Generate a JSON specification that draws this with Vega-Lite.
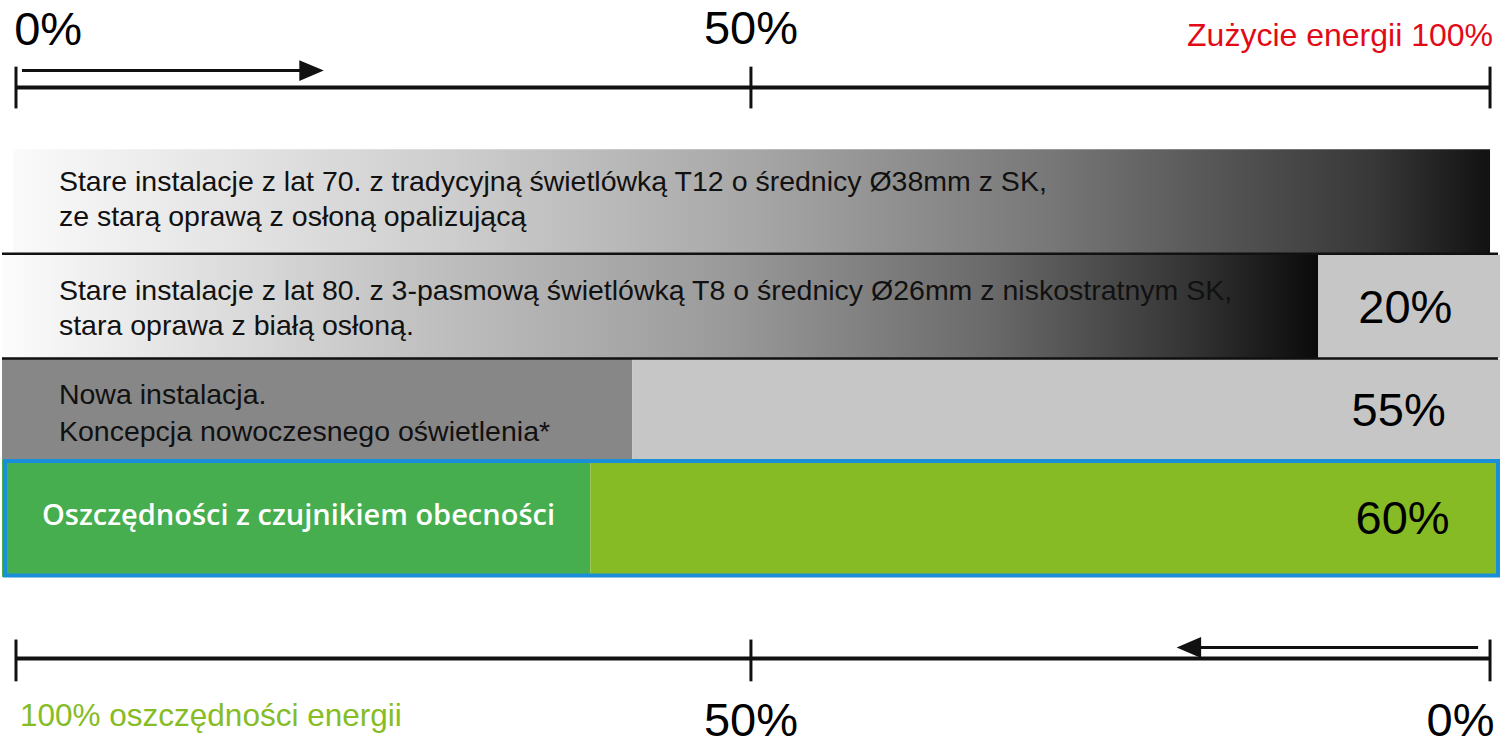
{
  "$schema": "https://vega.github.io/schema/vega-lite/v6.json",
  "width": 1510,
  "height": 745,
  "padding": 0,
  "autosize": {"type": "fit", "contains": "padding"},
  "background": "white",
  "config": {"view": {"stroke": null}},
  "datasets": {
    "bars": [
      {"segment": "bar2_rest", "x": 88.35, "x2": 100.68, "y": 256, "y2": 360},
      {"segment": "bar3_new", "x": -0.949, "x2": 41.8, "y": 361, "y2": 462},
      {"segment": "bar3_rest", "x": 41.8, "x2": 100.68, "y": 361, "y2": 462},
      {"segment": "bar4_sensor", "x": -0.949, "x2": 38.96, "y": 462, "y2": 580},
      {"segment": "bar4_rest", "x": 38.96, "x2": 100.68, "y": 462, "y2": 580}
    ],
    "axes": [
      {"axis": "top", "x": 0, "x2": 100, "y": 88},
      {"axis": "bottom", "x": 0, "x2": 100, "y": 662}
    ],
    "ticks": [
      {"x": 0, "y": 67, "y2": 109},
      {"x": 49.86, "y": 67, "y2": 109},
      {"x": 100, "y": 67, "y2": 109},
      {"x": 0, "y": 643, "y2": 685},
      {"x": 49.86, "y": 643, "y2": 685},
      {"x": 100, "y": 643, "y2": 685}
    ],
    "separators": [
      {"x": -0.949, "x2": 100.54, "y": 255},
      {"x": -0.949, "x2": 100.54, "y": 360.5}
    ],
    "shafts": [
      {"dir": "right", "x": 0.407, "x2": 19.6, "y": 71},
      {"dir": "left", "x": 80.2, "x2": 99.19, "y": 651}
    ],
    "heads": [
      {"dir": "right", "x": 20.05, "y": 71},
      {"dir": "left", "x": 79.57, "y": 651}
    ],
    "barText": [
      {"x": 2.913, "y": 183, "text": "Stare instalacje z lat 70. z tradycyjną świetlówką T12 o średnicy Ø38mm z SK,"},
      {"x": 2.913, "y": 218, "text": "ze starą oprawą z osłoną opalizującą"},
      {"x": 2.913, "y": 293, "text": "Stare instalacje z lat 80. z 3-pasmową świetlówką T8 o średnicy Ø26mm z niskostratnym SK,"},
      {"x": 2.913, "y": 328, "text": "stara oprawa z białą osłoną."},
      {"x": 2.913, "y": 397, "text": "Nowa instalacja."},
      {"x": 2.913, "y": 434, "text": "Koncepcja nowoczesnego oświetlenia*"}
    ],
    "bigCenter": [
      {"x": 49.86, "y": 44, "text": "50%"},
      {"x": 49.86, "y": 740, "text": "50%"},
      {"x": 94.25, "y": 325, "text": "20%"},
      {"x": 93.8, "y": 428, "text": "55%"},
      {"x": 94.07, "y": 537, "text": "60%"}
    ],
    "bigLeft": [{"x": -0.12, "y": 45, "text": "0%"}],
    "bigRight": [{"x": 100.3, "y": 740, "text": "0%"}]
  },
  "layer": [
    {
      "data": {"values": [{"x": -0.169, "x2": 100, "y": 150, "y2": 255}]},
      "mark": {
        "type": "rect",
        "color": {
          "gradient": "linear", "x1": 0, "x2": 1, "y1": 0, "y2": 0,
          "stops": [
            {"offset": 0, "color": "#fafafa"},
            {"offset": 0.3, "color": "#cdcdcd"},
            {"offset": 0.5, "color": "#a7a7a7"},
            {"offset": 0.7, "color": "#787878"},
            {"offset": 0.82, "color": "#545454"},
            {"offset": 0.92, "color": "#383838"},
            {"offset": 1, "color": "#121212"}
          ]
        }
      },
      "encoding": {
        "x": {"field": "x", "type": "quantitative", "scale": {"domain": [-0.949, 101.355], "nice": false, "zero": false}, "axis": null},
        "x2": {"field": "x2"},
        "y": {"field": "y", "type": "quantitative", "scale": {"domain": [0, 745], "reverse": true, "nice": false, "zero": false}, "axis": null},
        "y2": {"field": "y2"}
      }
    },
    {
      "data": {"values": [{"x": -0.949, "x2": 88.35, "y": 256, "y2": 360}]},
      "mark": {
        "type": "rect",
        "color": {
          "gradient": "linear", "x1": 0, "x2": 1, "y1": 0, "y2": 0,
          "stops": [
            {"offset": 0, "color": "#fcfcfc"},
            {"offset": 0.3, "color": "#c4c4c4"},
            {"offset": 0.55, "color": "#9a9a9a"},
            {"offset": 0.75, "color": "#6a6a6a"},
            {"offset": 0.9, "color": "#353535"},
            {"offset": 1, "color": "#0a0a0a"}
          ]
        }
      },
      "encoding": {
        "x": {"field": "x", "type": "quantitative"},
        "x2": {"field": "x2"},
        "y": {"field": "y", "type": "quantitative"},
        "y2": {"field": "y2"}
      }
    },
    {
      "data": {"name": "bars"},
      "mark": {"type": "rect"},
      "encoding": {
        "x": {"field": "x", "type": "quantitative"},
        "x2": {"field": "x2"},
        "y": {"field": "y", "type": "quantitative"},
        "y2": {"field": "y2"},
        "color": {
          "field": "segment", "type": "nominal", "legend": null,
          "scale": {
            "domain": ["bar2_rest", "bar3_new", "bar3_rest", "bar4_sensor", "bar4_rest"],
            "range": ["#c6c6c6", "#878787", "#c6c6c6", "#46ae4f", "#86bb25"]
          }
        }
      }
    },
    {
      "data": {"values": [{"x": -0.745, "x2": 100.54, "y": 463.5, "y2": 578.5}]},
      "mark": {"type": "rect", "filled": false, "stroke": "#1a8ed8", "strokeWidth": 4},
      "encoding": {
        "x": {"field": "x", "type": "quantitative"},
        "x2": {"field": "x2"},
        "y": {"field": "y", "type": "quantitative"},
        "y2": {"field": "y2"}
      }
    },
    {
      "data": {"name": "separators"},
      "mark": {"type": "rule", "color": "#111111", "strokeWidth": 2.5},
      "encoding": {
        "x": {"field": "x", "type": "quantitative"},
        "x2": {"field": "x2"},
        "y": {"field": "y", "type": "quantitative"}
      }
    },
    {
      "data": {"name": "axes"},
      "mark": {"type": "rule", "color": "#111111", "strokeWidth": 4},
      "encoding": {
        "x": {"field": "x", "type": "quantitative"},
        "x2": {"field": "x2"},
        "y": {"field": "y", "type": "quantitative"}
      }
    },
    {
      "data": {"name": "ticks"},
      "mark": {"type": "rule", "color": "#111111", "strokeWidth": 3},
      "encoding": {
        "x": {"field": "x", "type": "quantitative"},
        "y": {"field": "y", "type": "quantitative"},
        "y2": {"field": "y2"}
      }
    },
    {
      "data": {"name": "shafts"},
      "mark": {"type": "rule", "color": "#111111", "strokeWidth": 3},
      "encoding": {
        "x": {"field": "x", "type": "quantitative"},
        "x2": {"field": "x2"},
        "y": {"field": "y", "type": "quantitative"}
      }
    },
    {
      "data": {"name": "heads"},
      "mark": {"type": "point", "filled": true, "size": 600, "color": "#111111", "opacity": 1},
      "encoding": {
        "x": {"field": "x", "type": "quantitative"},
        "y": {"field": "y", "type": "quantitative"},
        "shape": {
          "field": "dir", "type": "nominal", "legend": null,
          "scale": {"domain": ["right", "left"], "range": ["M-1,-0.85L1,0L-1,0.85Z", "M1,-0.85L-1,0L1,0.85Z"]}
        }
      }
    },
    {
      "data": {"name": "barText"},
      "mark": {"type": "text", "align": "left", "baseline": "middle", "font": "Liberation Sans", "fontSize": 28.5, "color": "#111111"},
      "encoding": {
        "x": {"field": "x", "type": "quantitative"},
        "y": {"field": "y", "type": "quantitative"},
        "text": {"field": "text"}
      }
    },
    {
      "data": {"values": [{"x": 1.762, "y": 519, "text": "Oszczędności z  czujnikiem obecności"}]},
      "mark": {"type": "text", "align": "left", "baseline": "middle", "font": "Open Sans", "fontWeight": 600, "fontSize": 29, "letterSpacing": 1.1, "color": "white"},
      "encoding": {
        "x": {"field": "x", "type": "quantitative"},
        "y": {"field": "y", "type": "quantitative"},
        "text": {"field": "text"}
      }
    },
    {
      "data": {"name": "bigCenter"},
      "mark": {"type": "text", "align": "center", "baseline": "alphabetic", "font": "Liberation Sans", "fontSize": 47, "color": "#000000"},
      "encoding": {
        "x": {"field": "x", "type": "quantitative"},
        "y": {"field": "y", "type": "quantitative"},
        "text": {"field": "text"}
      }
    },
    {
      "data": {"name": "bigLeft"},
      "mark": {"type": "text", "align": "left", "baseline": "alphabetic", "font": "Liberation Sans", "fontSize": 47, "color": "#000000"},
      "encoding": {
        "x": {"field": "x", "type": "quantitative"},
        "y": {"field": "y", "type": "quantitative"},
        "text": {"field": "text"}
      }
    },
    {
      "data": {"name": "bigRight"},
      "mark": {"type": "text", "align": "right", "baseline": "alphabetic", "font": "Liberation Sans", "fontSize": 47, "color": "#000000"},
      "encoding": {
        "x": {"field": "x", "type": "quantitative"},
        "y": {"field": "y", "type": "quantitative"},
        "text": {"field": "text"}
      }
    },
    {
      "data": {"values": [{"x": 100.2, "y": 46, "text": "Zużycie energii 100%"}]},
      "mark": {"type": "text", "align": "right", "baseline": "alphabetic", "font": "Liberation Sans", "fontSize": 32, "color": "#e30a17"},
      "encoding": {
        "x": {"field": "x", "type": "quantitative"},
        "y": {"field": "y", "type": "quantitative"},
        "text": {"field": "text"}
      }
    },
    {
      "data": {"values": [{"x": 0.271, "y": 730, "text": "100% oszczędności energii"}]},
      "mark": {"type": "text", "align": "left", "baseline": "alphabetic", "font": "Liberation Sans", "fontSize": 31.5, "color": "#86bc25"},
      "encoding": {
        "x": {"field": "x", "type": "quantitative"},
        "y": {"field": "y", "type": "quantitative"},
        "text": {"field": "text"}
      }
    }
  ]
}
